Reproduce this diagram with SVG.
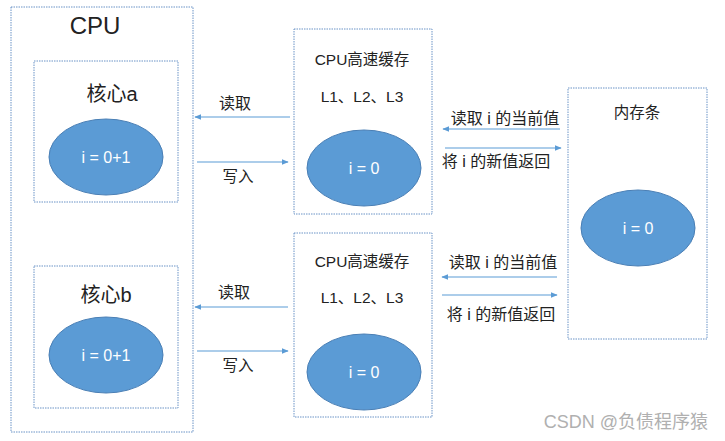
<svg xmlns="http://www.w3.org/2000/svg" width="725" height="441" viewBox="0 0 725 441">
<defs>
<style>
.box{fill:none;stroke:#6A93C6;stroke-width:1;stroke-dasharray:1.5 1}
.ell{fill:#5B9BD5;stroke:#4A7FB5;stroke-width:1}
.t{font-family:"Liberation Sans","Noto Sans CJK SC",sans-serif;fill:#222}
.w{font-family:"Liberation Sans","Noto Sans CJK SC",sans-serif;fill:#fff;font-size:16px;text-anchor:middle}
.c{text-anchor:middle}
.ln{stroke:#5B9BD5;stroke-width:1.2;fill:none;marker-end:url(#ah)}
</style>
<marker id="ah" viewBox="0 0 10 10" refX="9" refY="5" markerWidth="7" markerHeight="7" orient="auto" markerUnits="userSpaceOnUse">
<path d="M0,1 L10,5 L0,9 z" fill="#5B9BD5"/>
</marker>
</defs>
<rect width="725" height="441" fill="#fff"/>
<g id="cpu">
<rect class="box" x="11" y="7" width="182" height="425"/>
<text class="t c" x="95" y="34" font-size="24">CPU</text>
</g>
<g id="core-a">
<rect class="box" x="34" y="61" width="144" height="141"/>
<text class="t c" x="112" y="101" font-size="20">核心a</text>
<ellipse class="ell" cx="106" cy="157" rx="57" ry="38"/>
<text class="w" x="106" y="163">i = 0+1</text>
</g>
<g id="core-b">
<rect class="box" x="34" y="266" width="144" height="142"/>
<text class="t c" x="106" y="302" font-size="20">核心b</text>
<ellipse class="ell" cx="106" cy="355" rx="57" ry="38"/>
<text class="w" x="106" y="361">i = 0+1</text>
</g>
<g id="cache-top">
<rect class="box" x="294" y="29" width="138" height="185"/>
<text class="t c" x="362" y="65" font-size="15.5">CPU高速缓存</text>
<text class="t c" x="362" y="102" font-size="15.5">L1、L2、L3</text>
<ellipse class="ell" cx="364" cy="168" rx="57" ry="38"/>
<text class="w" x="364" y="174">i = 0</text>
</g>
<g id="cache-bottom">
<rect class="box" x="294" y="233" width="138" height="184"/>
<text class="t c" x="362" y="267" font-size="15.5">CPU高速缓存</text>
<text class="t c" x="362" y="303" font-size="15.5">L1、L2、L3</text>
<ellipse class="ell" cx="364" cy="372" rx="57" ry="38"/>
<text class="w" x="364" y="378">i = 0</text>
</g>
<g id="memory">
<rect class="box" x="568" y="88" width="139" height="251"/>
<text class="t c" x="637" y="118" font-size="15.5">内存条</text>
<ellipse class="ell" cx="638" cy="228" rx="57" ry="38"/>
<text class="w" x="638" y="234">i = 0</text>
</g>
<g id="connectors">
<line class="ln" x1="290" y1="117" x2="195" y2="117"/>
<line class="ln" x1="197" y1="162" x2="288" y2="162"/>
<line class="ln" x1="288" y1="307" x2="195" y2="307"/>
<line class="ln" x1="197" y1="351" x2="288" y2="351"/>
<line class="ln" x1="560" y1="129" x2="443" y2="129"/>
<line class="ln" x1="445" y1="148" x2="561" y2="148"/>
<line class="ln" x1="557" y1="277" x2="442" y2="277"/>
<line class="ln" x1="442" y1="295" x2="557" y2="295"/>
<text class="t c" x="235" y="109" font-size="16">读取</text>
<text class="t c" x="238" y="182" font-size="15.5">写入</text>
<text class="t c" x="234" y="298" font-size="16">读取</text>
<text class="t c" x="238" y="371" font-size="15.5">写入</text>
<text class="t c" x="505" y="124" font-size="16">读取 i 的当前值</text>
<text class="t c" x="496" y="167" font-size="16">将 i 的新值返回</text>
<text class="t c" x="503" y="268" font-size="16">读取 i 的当前值</text>
<text class="t c" x="501" y="320" font-size="16">将 i 的新值返回</text>
</g>
<text x="708" y="428" font-size="18" style="font-family:'Liberation Sans','Noto Sans CJK SC',sans-serif;fill:#b0b0b0;text-anchor:end">CSDN @负债程序猿</text>
</svg>
